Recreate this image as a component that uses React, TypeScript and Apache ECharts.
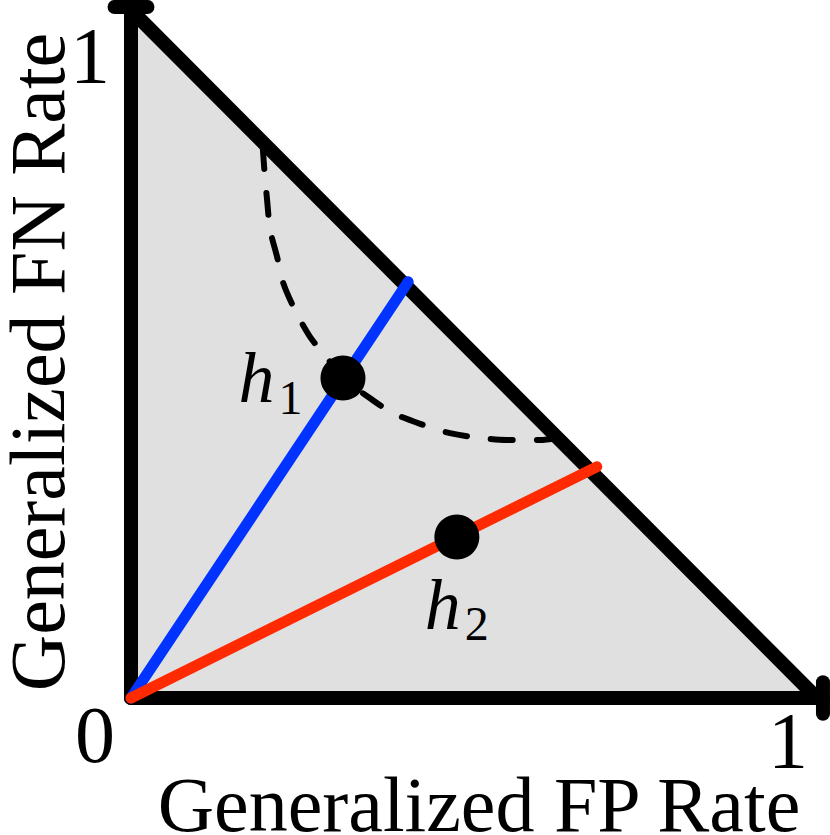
import React, { useEffect, useRef } from "react";
import * as echarts from "echarts";

// Geometry of the plot (data space, both axes 0..1)
const triangle: number[][] = [[0, 0], [1, 0], [0, 1]];
const hypotenuse: number[][] = [[0, 1], [1, 0]];
const yAxisLine: number[][] = [[0, 0], [0, 1.0044]];
const xAxisLine: number[][] = [[0, 0], [1.0087, 0]];
const yAxisCap: number[][] = [[-0.024, 1.0044], [0.024, 1.0044]];
const xAxisCap: number[][] = [[1.0087, -0.023], [1.0087, 0.023]];
const frameSegments: number[][][] = [hypotenuse, yAxisLine, xAxisLine, yAxisCap, xAxisCap];

const blueRay: number[][] = [[0, 0], [0.404, 0.605]];
const redRay: number[][] = [[0, 0], [0.679, 0.336]];

const isoCurve: number[][] = [
  [0.192, 0.801], [0.195, 0.76], [0.198, 0.728], [0.203, 0.68], [0.213, 0.641],
  [0.222, 0.603], [0.239, 0.564], [0.261, 0.525], [0.286, 0.494], [0.309, 0.465],
  [0.348, 0.436], [0.382, 0.414], [0.426, 0.397], [0.465, 0.385], [0.509, 0.378],
  [0.548, 0.375], [0.596, 0.375], [0.621, 0.378],
];

const pointNames = ["1", "2"];
const pointValues: number[][] = [[0.309, 0.465], [0.475, 0.234]];

const xTitle = "Generalized FP Rate";
const yTitle = "Generalized FN Rate";
const tickTexts = ["0", "1", "1"];

const SERIF = "Liberation Serif";

export default function App() {
  const ref = useRef<HTMLDivElement>(null);
  useEffect(() => {
    if (!ref.current) return;
    const chart = echarts.init(ref.current, undefined, { renderer: "svg" });

    const lineSeries = (data: number[][], color: string, width: number, z: number, extra: any = {}) => ({
      type: "line",
      data,
      symbol: "none",
      clip: false,
      silent: true,
      z,
      lineStyle: { color, width, cap: "round", join: "round", ...(extra.lineStyle || {}) },
      ...(extra.smooth !== undefined ? { smooth: extra.smooth } : {}),
    });

    const subLabel = (pos: string, dist: number) => ({
      show: true,
      position: pos,
      distance: dist,
      formatter: (p: any) => `{h|h}{s|${p.name}}`,
      rich: {
        h: { fontFamily: SERIF, fontStyle: "italic", fontSize: 72, color: "#000", verticalAlign: "middle" },
        s: { fontFamily: SERIF, fontSize: 48, color: "#000", padding: [38, 0, 0, 4], verticalAlign: "middle" },
      },
    });

    const textEl = (x: number, y: number, text: string, size: number, rotation = 0) => ({
      type: "text",
      x,
      y,
      rotation,
      style: { text, fontFamily: SERIF, fontSize: size, fill: "#000", align: "center", verticalAlign: "middle" },
    });

    chart.setOption({
      animation: false,
      backgroundColor: "#ffffff",
      grid: { left: 131, top: 10, width: 686, height: 688 },
      xAxis: { type: "value", min: 0, max: 1, show: false },
      yAxis: { type: "value", min: 0, max: 1, show: false },
      series: [
        {
          type: "custom",
          data: triangle,
          silent: true,
          clip: false,
          z: 0,
          renderItem: (params: any, api: any) => {
            if (params.dataIndex !== 0) return null;
            const pts = triangle.map((p) => api.coord(p));
            return { type: "polygon", shape: { points: pts }, style: { fill: "#e0e0e0" } };
          },
        },
        {
          type: "custom",
          data: frameSegments.map((_, i) => [i, i]),
          silent: true,
          clip: false,
          z: 2,
          renderItem: (params: any, api: any) => {
            const seg = frameSegments[params.dataIndex];
            const a = api.coord(seg[0]);
            const b = api.coord(seg[1]);
            return {
              type: "line",
              shape: { x1: a[0], y1: a[1], x2: b[0], y2: b[1] },
              style: { stroke: "#000", lineWidth: 14, lineCap: "round", fill: null },
            };
          },
        },
        lineSeries(isoCurve, "#000", 6, 3, { smooth: 0.3, lineStyle: { type: [22, 24] } }),
        lineSeries(blueRay, "#0033ff", 11, 4),
        lineSeries(redRay, "#ff2a00", 11, 4),
        {
          type: "scatter",
          symbol: "circle",
          symbolSize: 45,
          z: 5,
          clip: false,
          silent: true,
          itemStyle: { color: "#000", opacity: 1 },
          data: [
            { name: pointNames[0], value: pointValues[0], label: subLabel("left", 18) },
            { name: pointNames[1], value: pointValues[1], label: subLabel("bottom", 2) },
          ],
        },
      ],
      graphic: [
        textEl(90, 56, tickTexts[1], 80),
        textEl(95, 735, tickTexts[0], 80),
        textEl(788, 741, tickTexts[2], 80),
        textEl(479, 804, xTitle, 78),
        textEl(37, 362, yTitle, 78, Math.PI / 2),
      ],
    });
    return () => chart.dispose();
  }, []);
  return <div ref={ref} style={{ position: "absolute", left: 0, top: 0, width: 830, height: 835, background: "#fff" }} />;
}
